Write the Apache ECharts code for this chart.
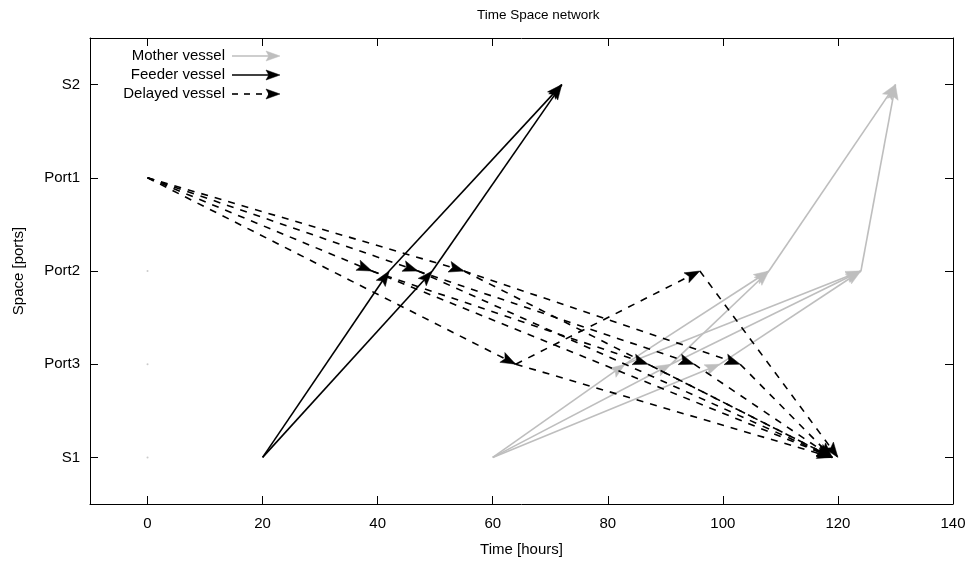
<!DOCTYPE html>
<html>
<head>
<meta charset="utf-8">
<title>Time Space network</title>
<script src="https://cdn.jsdelivr.net/npm/echarts@6/dist/echarts.min.js"></script>
<style>
  html, body { margin: 0; padding: 0; background: #fff; }
  #chart { width: 969px; height: 566px; }
</style>
</head>
<body>
<div id="chart"></div>
<script>
// Space axis: ports ordered bottom to top
const ports = ['S1', 'Port3', 'Port2', 'Port1', 'S2'];
const hourTicks = [0, 20, 40, 60, 80, 100, 120, 140];
const portTicks = [0, 1, 2, 3, 4];

// Each leg: [departure hour, from port, arrival hour, to port]
const motherLegs = [
  [60, 'S1', 83, 'Port3'],
  [60, 'S1', 91, 'Port3'],
  [60, 'S1', 99.5, 'Port3'],
  [83, 'Port3', 108, 'Port2'],
  [91, 'Port3', 108, 'Port2'],
  [83, 'Port3', 124, 'Port2'],
  [91, 'Port3', 124, 'Port2'],
  [99.5, 'Port3', 124, 'Port2'],
  [108, 'Port2', 130, 'S2'],
  [124, 'Port2', 130, 'S2']
];

const feederLegs = [
  [20, 'S1', 42, 'Port2'],
  [42, 'Port2', 72, 'S2'],
  [20, 'S1', 49.5, 'Port2'],
  [49.5, 'Port2', 72, 'S2']
];

const delayedLegs = [
  [0, 'Port1', 39, 'Port2'],
  [0, 'Port1', 47, 'Port2'],
  [0, 'Port1', 55, 'Port2'],
  [0, 'Port1', 64, 'Port3'],
  [39, 'Port2', 87, 'Port3'],
  [47, 'Port2', 95, 'Port3'],
  [55, 'Port2', 103, 'Port3'],
  [39, 'Port2', 119, 'S1'],
  [47, 'Port2', 119, 'S1'],
  [55, 'Port2', 119, 'S1'],
  [87, 'Port3', 119, 'S1'],
  [95, 'Port3', 119, 'S1'],
  [103, 'Port3', 119, 'S1'],
  [64, 'Port3', 96, 'Port2'],
  [64, 'Port3', 119, 'S1'],
  [96, 'Port2', 120, 'S1']
];

// Idle markers at time zero
const idlePoints = [[0, 'Port2'], [0, 'Port3'], [0, 'S1']];

const GRAY = '#bebebe';
const BLACK = '#000000';
const FONT = '"Liberation Sans", Arial, sans-serif';

function toRows(legs) {
  return legs.map(l => [l[0], ports.indexOf(l[1]), l[2], ports.indexOf(l[3])]);
}

function arrowHead(p1, p2, len, half) {
  const dx = p2[0] - p1[0], dy = p2[1] - p1[1];
  const d = Math.sqrt(dx * dx + dy * dy) || 1;
  const ux = dx / d, uy = dy / d;
  const nx = -uy, ny = ux;
  const bx = p2[0] - ux * len, by = p2[1] - uy * len;
  const mx = p2[0] - ux * len * 0.8, my = p2[1] - uy * len * 0.8;
  return [
    [p2[0], p2[1]],
    [bx + nx * half, by + ny * half],
    [mx, my],
    [bx - nx * half, by - ny * half]
  ];
}

function legSeries(name, legs, color, dash, z) {
  return {
    name: name,
    type: 'custom',
    z: z,
    data: toRows(legs),
    encode: { x: [0, 2], y: [1, 3] },
    renderItem: function (params, api) {
      const p1 = api.coord([api.value(0), api.value(1)]);
      const p2 = api.coord([api.value(2), api.value(3)]);
      return {
        type: 'group',
        children: [
          {
            type: 'line',
            shape: { x1: p1[0], y1: p1[1], x2: p2[0], y2: p2[1] },
            style: { stroke: color, lineWidth: 1.6, lineDash: dash, fill: null }
          },
          {
            type: 'polygon',
            shape: { points: arrowHead(p1, p2, 15, 5.5) },
            style: { fill: color, stroke: color, lineWidth: 0.5 }
          }
        ]
      };
    }
  };
}

// Key in the upper-left corner: label on the left, arrow sample on the right
function keyEntry(label, y, color, dash) {
  const x1 = 232, x2 = 280;
  return [
    {
      type: 'text',
      x: 225, y: y,
      style: { text: label, font: '15px ' + FONT, fill: '#000', align: 'right', verticalAlign: 'middle' }
    },
    {
      type: 'line',
      shape: { x1: x1, y1: y, x2: x2 - 10, y2: y },
      style: { stroke: color, lineWidth: 1.6, lineDash: dash }
    },
    {
      type: 'polygon',
      shape: { points: arrowHead([x1, y], [x2, y], 14, 5) },
      style: { fill: color, stroke: color, lineWidth: 0.5 }
    }
  ];
}

const chart = echarts.init(document.getElementById('chart'), null, { renderer: 'canvas' });

const axisText = { color: '#000', fontSize: 15, fontFamily: FONT };
const frameLine = { show: true, onZero: false, lineStyle: { color: '#000', width: 1 } };

function ticks(values) {
  return { show: true, inside: true, length: 8, customValues: values, lineStyle: { color: '#000' } };
}

chart.setOption({
  animation: false,
  backgroundColor: '#fff',
  title: {
    text: 'Time Space network',
    left: 472,
    top: 3,
    textStyle: { fontSize: 13.5, fontWeight: 'normal', color: '#000', fontFamily: FONT }
  },
  grid: { left: 90, right: 16, top: 38, bottom: 62, show: false },
  xAxis: [
    {
      type: 'value', min: -10, max: 140, position: 'bottom',
      name: 'Time [hours]', nameLocation: 'middle', nameGap: 38,
      nameTextStyle: axisText,
      axisLine: frameLine,
      axisTick: ticks(hourTicks),
      axisLabel: Object.assign({ customValues: hourTicks, margin: 12 }, axisText),
      splitLine: { show: false }
    },
    {
      type: 'value', min: -10, max: 140, position: 'top',
      axisLine: frameLine,
      axisTick: ticks(hourTicks),
      axisLabel: { show: false },
      splitLine: { show: false }
    }
  ],
  yAxis: [
    {
      type: 'value', min: -0.5, max: 4.5, position: 'left',
      name: 'Space [ports]', nameLocation: 'middle', nameGap: 64, nameRotate: 90,
      nameTextStyle: axisText,
      axisLine: frameLine,
      axisTick: ticks(portTicks),
      axisLabel: Object.assign({
        customValues: portTicks, margin: 10,
        formatter: v => ports[Math.round(v)]
      }, axisText),
      splitLine: { show: false }
    },
    {
      type: 'value', min: -0.5, max: 4.5, position: 'right',
      axisLine: frameLine,
      axisTick: ticks(portTicks),
      axisLabel: { show: false },
      splitLine: { show: false }
    }
  ],
  series: [
    legSeries('Mother vessel', motherLegs, GRAY, null, 2),
    legSeries('Delayed vessel', delayedLegs, BLACK, [7, 7], 3),
    legSeries('Feeder vessel', feederLegs, BLACK, null, 4),
    {
      name: 'idle', type: 'scatter', z: 1,
      data: idlePoints.map(p => [p[0], ports.indexOf(p[1])]),
      symbolSize: 2, itemStyle: { color: GRAY }, silent: true
    }
  ],
  graphic: [].concat(
    keyEntry('Mother vessel', 56, GRAY, null),
    keyEntry('Feeder vessel', 75, BLACK, null),
    keyEntry('Delayed vessel', 94, BLACK, [6, 6])
  )
});
</script>
</body>
</html>
